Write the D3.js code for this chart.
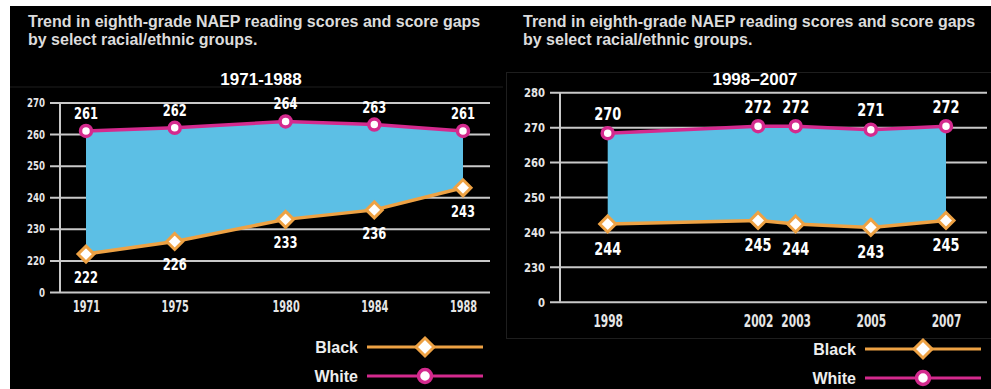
<!DOCTYPE html>
<html>
<head>
<meta charset="utf-8">
<script src="https://cdn.jsdelivr.net/npm/d3@7"></script>
<style>
  body { margin: 0; background: #fff; }
  svg { display: block; }
  .title { font-family: "Liberation Sans", Arial, sans-serif; font-weight: bold; font-size: 16px; fill: #dcdcdc; }
  .sub { font-family: "Liberation Sans", Arial, sans-serif; font-weight: bold; font-size: 17px; fill: #fff; }
  .num { font-family: "DejaVu Sans Condensed", "DejaVu Sans", sans-serif; font-stretch: condensed; font-weight: bold; fill: #e6e6e6; }
  .leg { font-family: "Liberation Sans", Arial, sans-serif; font-weight: bold; font-size: 16px; fill: #eee; }
</style>
</head>
<body>
<svg width="991" height="389"></svg>
<script>
// dati
var titleLines = ["Trend in eighth-grade NAEP reading scores and score gaps", "by select racial/ethnic groups."];

var leftPeriod = "1971-1988";
var leftYears = [1971, 1975, 1980, 1984, 1988];
var leftWhite = [261, 262, 264, 263, 261];
var leftBlack = [222, 226, 233, 236, 243];
var leftTicks = [210, 220, 230, 240, 250, 260, 270];

var rightPeriod = "1998\u20132007";
var rightYears = [1998, 2002, 2003, 2005, 2007];
var rightWhite = [270, 272, 272, 271, 272];
var rightBlack = [244, 245, 244, 243, 245];
var rightTicks = [220, 230, 240, 250, 260, 270, 280];

var legendNames = ["Black", "White"];

// colori
var blue = "#5cbfe5", pink = "#d42a8e", orange = "#eea244", grid = "#c9c9c9";

var svg = d3.select("svg");

// sfondo nero
svg.append("rect").attr("x", 10).attr("y", 6).attr("width", 981).attr("height", 383).attr("fill", "#000");

// bordi dei pannelli (appena visibili)
svg.append("line").attr("x1", 10).attr("x2", 503).attr("y1", 87).attr("y2", 87).attr("stroke", "#1e1e1e");
svg.append("rect").attr("x", 506.5).attr("y", 72.5).attr("width", 490).attr("height", 266)
  .attr("fill", "none").attr("stroke", "#1e1e1e");

function diamond(r) {
  return "M0," + (-r) + "L" + r + ",0L0," + r + "L" + (-r) + ",0Z";
}

// numeri stretti e alti come nell'originale
function squeeze(sel, size, perChar) {
  sel.style("font-size", size + "px")
    .attr("lengthAdjust", "spacingAndGlyphs")
    .attr("textLength", function() { return this.textContent.length * perChar; });
}

function drawPanel(p) {
  var g = svg.append("g");

  // titolo
  g.selectAll(".title").data(titleLines).enter().append("text")
    .attr("class", "title")
    .attr("x", p.titleX)
    .attr("y", function(d, i) { return 27 + i * 18; })
    .text(function(d) { return d; });

  g.append("text").attr("class", "sub")
    .attr("x", p.subX).attr("y", 85)
    .attr("text-anchor", "middle")
    .text(p.period);

  var x = d3.scaleLinear().domain(d3.extent(p.years)).range(p.xRange);
  var y = d3.scaleLinear().domain(d3.extent(p.ticks)).range(p.yRange);

  // asse y con griglia
  var yAxis = d3.axisLeft(y)
    .tickValues(p.ticks)
    .tickSize(-(p.gridEnd - p.tickStart))
    .tickPadding(5)
    .tickFormat(function(d) { return d === p.ticks[0] && p.brokenZero ? "0" : d; });

  var ya = g.append("g").attr("transform", "translate(" + p.tickStart + ",0)").call(yAxis);
  ya.select(".domain").remove();
  ya.selectAll("line").attr("stroke", grid).attr("stroke-width", 2);
  ya.selectAll("text").attr("class", "num").attr("dy", "0.36em").call(squeeze, p.yFont[0], p.yFont[1]);

  g.append("line")
    .attr("x1", p.axisX).attr("x2", p.axisX)
    .attr("y1", y(p.ticks[p.ticks.length - 1])).attr("y2", y(p.ticks[0]))
    .attr("stroke", grid).attr("stroke-width", 2);

  // etichette anni
  var xAxis = d3.axisBottom(x).tickValues(p.years).tickSize(0).tickPadding(0).tickFormat(d3.format("d"));
  var xa = g.append("g").attr("transform", "translate(0," + p.xLabelY + ")").call(xAxis);
  xa.select(".domain").remove();
  xa.selectAll("text").attr("class", "num").attr("dy", null).attr("y", 0).call(squeeze, p.xFont[0], p.xFont[1]);

  var rows = p.years.map(function(yr, i) { return { year: yr, white: p.white[i], black: p.black[i] }; });

  var marks = g.append("g").attr("transform", "translate(0," + p.shift + ")");

  // area del gap
  marks.append("path").datum(rows)
    .attr("fill", blue)
    .attr("d", d3.area()
      .x(function(d) { return x(d.year); })
      .y0(function(d) { return y(d.black); })
      .y1(function(d) { return y(d.white); }));

  marks.append("path").datum(rows)
    .attr("fill", "none").attr("stroke", pink).attr("stroke-width", 3.5)
    .attr("d", d3.line().x(function(d) { return x(d.year); }).y(function(d) { return y(d.white); }));

  marks.append("path").datum(rows)
    .attr("fill", "none").attr("stroke", orange).attr("stroke-width", 3.5)
    .attr("d", d3.line().x(function(d) { return x(d.year); }).y(function(d) { return y(d.black); }));

  marks.selectAll(".dia").data(rows).enter().append("path")
    .attr("d", diamond(8))
    .attr("transform", function(d) { return "translate(" + x(d.year) + "," + y(d.black) + ")"; })
    .attr("fill", "#fff").attr("stroke", orange).attr("stroke-width", 3);

  marks.selectAll(".dot").data(rows).enter().append("circle")
    .attr("cx", function(d) { return x(d.year); })
    .attr("cy", function(d) { return y(d.white); })
    .attr("r", 5.5)
    .attr("fill", "#fff").attr("stroke", pink).attr("stroke-width", 3.5);

  // valori
  marks.selectAll(".lw").data(rows).enter().append("text")
    .attr("class", "num").style("fill", "#fff")
    .attr("text-anchor", "middle")
    .attr("x", function(d) { return x(d.year); })
    .attr("y", function(d) { return y(d.white) + p.whiteDy; })
    .text(function(d) { return d.white; })
    .call(squeeze, p.valFont[0], p.valFont[1]);

  marks.selectAll(".lb").data(rows).enter().append("text")
    .attr("class", "num").style("fill", "#fff")
    .attr("text-anchor", "middle")
    .attr("x", function(d) { return x(d.year); })
    .attr("y", function(d) { return y(d.black) + p.blackDy; })
    .text(function(d) { return d.black; })
    .call(squeeze, p.valFont[0], p.valFont[1]);

  // legenda
  var leg = g.selectAll(".legitem").data(legendNames).enter().append("g")
    .attr("transform", function(d, i) { return "translate(0," + (p.legY + i * 29) + ")"; });

  leg.append("text").attr("class", "leg")
    .attr("x", p.legX - 9).attr("y", 6)
    .attr("text-anchor", "end")
    .text(function(d) { return d; });

  leg.append("line")
    .attr("x1", p.legX).attr("x2", p.legX + 116)
    .attr("stroke", function(d, i) { return i === 0 ? orange : pink; })
    .attr("stroke-width", 3);

  leg.filter(function(d, i) { return i === 0; }).append("path")
    .attr("d", diamond(9))
    .attr("transform", "translate(" + (p.legX + 58) + ",0)")
    .attr("fill", "#fff").attr("stroke", orange).attr("stroke-width", 3);

  leg.filter(function(d, i) { return i === 1; }).append("circle")
    .attr("cx", p.legX + 58).attr("r", 6.5)
    .attr("fill", "#fff").attr("stroke", pink).attr("stroke-width", 3.5);
}

drawPanel({
  titleX: 28, subX: 261, period: leftPeriod,
  years: leftYears, white: leftWhite, black: leftBlack, ticks: leftTicks, brokenZero: true,
  xRange: [86, 463], yRange: [292, 102.5],
  tickStart: 50, gridEnd: 490, axisX: 60,
  yFont: [11.5, 6], xFont: [16, 6.8], valFont: [16, 8], xLabelY: 312,
  shift: 0, whiteDy: -12, blackDy: 29,
  legX: 367, legY: 347
});

drawPanel({
  titleX: 523, subX: 755, period: rightPeriod,
  years: rightYears, white: rightWhite, black: rightBlack, ticks: rightTicks, brokenZero: true,
  xRange: [607.7, 946], yRange: [301.7, 92.3],
  tickStart: 550, gridEnd: 987, axisX: 560,
  yFont: [12.5, 7], xFont: [18, 7.4], valFont: [18, 9], xLabelY: 327,
  shift: 6, whiteDy: -13.5, blackDy: 31,
  legX: 865, legY: 349
});
</script>
</body>
</html>
